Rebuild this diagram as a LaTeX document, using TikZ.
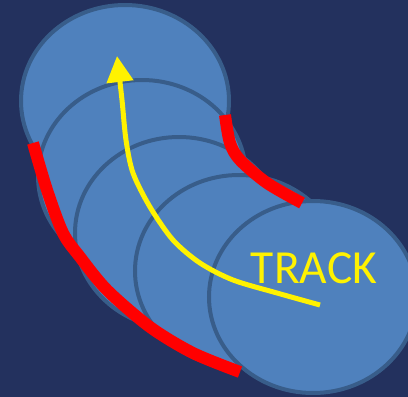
\documentclass[tikz,border=0pt]{standalone}
\usepackage{fontspec}
\setmainfont{Carlito}
\usetikzlibrary{arrows.meta}
\definecolor{navy}{RGB}{35,49,94}
\definecolor{discfill}{RGB}{79,129,189}
\definecolor{discline}{RGB}{56,93,138}

\begin{document}
\begin{tikzpicture}[x=1pt,y=-1pt,
  disc/.style={fill=discfill,draw=discline,line width=4pt},
  rim/.style={red,line width=12pt},
  track/.style={yellow,line width=5pt,-{Triangle[length=26pt,width=26pt]}}]
\fill[navy] (0,0) rectangle (408,397);
\useasboundingbox (0,0) rectangle (408,397);
% the five discs, back to front
\foreach \x/\y [count=\i] in {125/101,142/176,179/233,239/271,313/297}
  \coordinate (C\i) at (\x,\y);
\foreach \i in {1,...,5}
  \draw[disc] (C\i) ellipse [x radius=104pt, y radius=96pt];
% red edges
\draw[rim] plot[smooth] coordinates {(33,143) (47,190) (63,233) (80,257) (107,290) (150,327) (193,353) (240,372)};
\draw[rim] plot[smooth] coordinates {(225,115) (230,143) (240,160) (267,183) (302,203)};
% yellow track
\coordinate (start) at (320,305);
\coordinate (tip) at (117,56);
\draw[track] plot[smooth] coordinates {(start) (277,293) (233,280) (200,263) (173,240) (150,207) (133,173) (126,140) (122,100) (tip)};
\node[text=yellow,font=\fontsize{47.5}{47.5}\selectfont,inner sep=0pt] (label) at (314,268) {TRACK};
\end{tikzpicture}
\end{document}
